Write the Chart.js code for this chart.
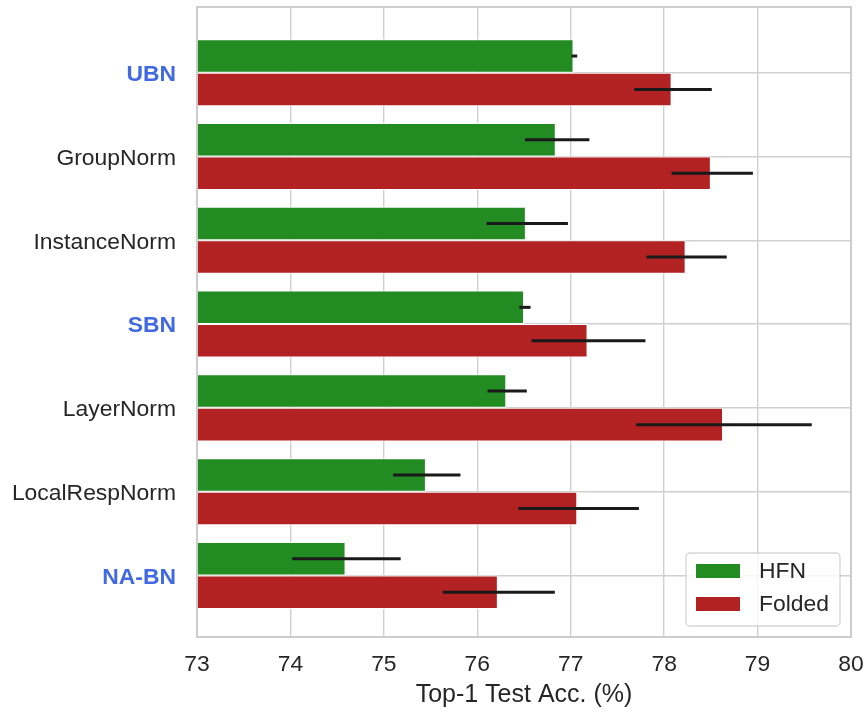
<!DOCTYPE html>
<html>
<head>
<meta charset="utf-8">
<script src="https://cdn.jsdelivr.net/npm/chart.js@4.4.1/dist/chart.umd.min.js"></script>
<style>
  html, body { margin: 0; padding: 0; background: #ffffff; }
  #wrap { width: 865px; height: 713px; }
</style>
</head>
<body>
<div id="wrap"><canvas id="chart" width="865" height="713"></canvas></div>
<script>
// Normalization methods (top to bottom)
const categories = ['UBN', 'GroupNorm', 'InstanceNorm', 'SBN', 'LayerNorm', 'LocalRespNorm', 'NA-BN'];
const highlighted = ['UBN', 'SBN', 'NA-BN'];

// Mean top-1 test accuracy (%)
const hfnMean    = [77.03, 76.84, 76.52, 76.50, 76.31, 75.45, 74.59];
const foldedMean = [78.08, 78.50, 78.23, 77.18, 78.63, 77.07, 76.22];

// Confidence interval bounds
const hfnLow     = [77.01, 76.51, 76.10, 76.45, 76.11, 75.10, 74.02];
const hfnHigh    = [77.07, 77.20, 76.97, 76.57, 76.53, 75.82, 75.18];
const foldedLow  = [77.68, 78.08, 77.81, 76.58, 77.70, 76.44, 75.63];
const foldedHigh = [78.51, 78.95, 78.67, 77.80, 79.58, 77.73, 76.83];

const xTicks = [73, 74, 75, 76, 77, 78, 79, 80];

const TEXT = '#262626';
const GRID = '#d0d0d0';
const FONT = '"Liberation Sans", Arial, Helvetica, sans-serif';

Chart.defaults.font.family = FONT;
Chart.defaults.color = TEXT;

const toPoints = vals => vals.map((v, i) => ({ x: v, y: i }));
const isHighlighted = c => !!(c && c.tick && highlighted.includes(categories[c.tick.value]));

// Error bars drawn at each bar's centre line
const errorBars = {
  id: 'errorBars',
  afterDatasetsDraw(chart) {
    const ctx = chart.ctx;
    const xs = chart.scales.x;
    ctx.save();
    ctx.strokeStyle = '#1a1a1a';
    ctx.lineWidth = 3;
    ctx.lineCap = 'butt';
    chart.data.datasets.forEach((ds, di) => {
      const meta = chart.getDatasetMeta(di);
      meta.data.forEach((bar, j) => {
        const x0 = xs.getPixelForValue(ds.errLow[j]);
        const x1 = xs.getPixelForValue(ds.errHigh[j]);
        ctx.beginPath();
        ctx.moveTo(x0, bar.y);
        ctx.lineTo(x1, bar.y);
        ctx.stroke();
      });
    });
    ctx.restore();
  }
};

// Frame around the plotting area
const frame = {
  id: 'frame',
  afterDatasetsDraw(chart) {
    const { ctx, chartArea: a } = chart;
    ctx.save();
    ctx.strokeStyle = '#cccccc';
    ctx.lineWidth = 2;
    ctx.strokeRect(a.left, a.top, a.right - a.left, a.bottom - a.top);
    ctx.restore();
  }
};

// Legend box in the lower-right corner of the plot
const boxLegend = {
  id: 'boxLegend',
  afterDraw(chart) {
    const { ctx, chartArea: a } = chart;
    const w = 154, h = 73;
    const x = a.right - 11 - w, y = a.bottom - 11 - h;
    ctx.save();
    ctx.beginPath();
    if (ctx.roundRect) ctx.roundRect(x, y, w, h, 4); else ctx.rect(x, y, w, h);
    ctx.fillStyle = 'rgba(255,255,255,0.8)';
    ctx.fill();
    ctx.strokeStyle = 'rgba(204,204,204,0.8)';
    ctx.lineWidth = 1.3;
    ctx.stroke();
    ctx.font = '22.9px ' + FONT;
    ctx.textBaseline = 'middle';
    ctx.textAlign = 'left';
    chart.data.datasets.forEach((ds, i) => {
      const cy = y + 18 + i * 33;
      ctx.fillStyle = ds.backgroundColor;
      ctx.fillRect(x + 10, cy - 7, 44, 14);
      ctx.fillStyle = TEXT;
      ctx.fillText(ds.label, x + 73, cy + 1);
    });
    ctx.restore();
  }
};

new Chart(document.getElementById('chart'), {
  type: 'bar',
  data: {
    datasets: [
      {
        label: 'HFN',
        data: toPoints(hfnMean),
        errLow: hfnLow, errHigh: hfnHigh,
        backgroundColor: '#228B22',
        borderColor: '#ffffff',
        borderWidth: 1
      },
      {
        label: 'Folded',
        data: toPoints(foldedMean),
        errLow: foldedLow, errHigh: foldedHigh,
        backgroundColor: '#B22222',
        borderColor: '#ffffff',
        borderWidth: 1
      }
    ]
  },
  options: {
    indexAxis: 'y',
    responsive: false,
    animation: false,
    devicePixelRatio: 1,
    layout: { padding: { left: 0, right: 14, top: 7, bottom: 0 } },
    datasets: { bar: { categoryPercentage: 0.8, barPercentage: 1.0 } },
    plugins: {
      legend: { display: false },
      tooltip: { enabled: false }
    },
    scales: {
      x: {
        type: 'linear',
        min: xTicks[0],
        max: xTicks[xTicks.length - 1],
        afterBuildTicks: s => { s.ticks = xTicks.map(v => ({ value: v })); },
        afterFit: s => { s.height = 76; s.paddingLeft = 0; s.paddingRight = 0; },
        grid: { color: GRID, lineWidth: 1.4, drawTicks: false },
        border: { display: false },
        ticks: { color: TEXT, font: { size: 22.9 }, padding: 14, maxRotation: 0 },
        title: {
          display: true,
          text: 'Top-1 Test Acc. (%)',
          color: TEXT,
          font: { size: 25 },
          padding: { top: 0, bottom: 3 }
        }
      },
      y: {
        type: 'linear',
        reverse: true,
        offset: false,
        min: -0.785,
        max: 6.735,
        afterBuildTicks: s => { s.ticks = categories.map((c, i) => ({ value: i })); },
        afterFit: s => { s.width = 197; s.paddingTop = 0; s.paddingBottom = 0; },
        grid: { color: GRID, lineWidth: 1.4, drawTicks: false, offset: false },
        border: { display: false },
        ticks: {
          padding: 21,
          labelOffset: 2,
          callback: v => categories[v],
          color: c => isHighlighted(c) ? '#4169E1' : TEXT,
          font: c => ({ size: 22.9, weight: isHighlighted(c) ? 'bold' : 'normal' })
        }
      }
    }
  },
  plugins: [errorBars, frame, boxLegend]
});
</script>
</body>
</html>
